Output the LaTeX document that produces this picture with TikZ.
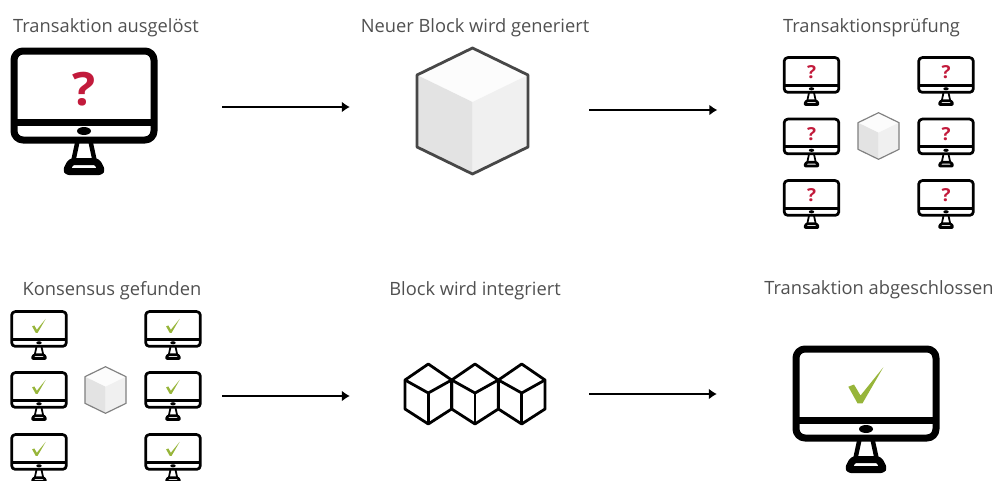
\documentclass[tikz,border=0pt]{standalone}
\usepackage{fontspec}
\setmainfont{Open Sans}
\usetikzlibrary{arrows.meta}

\definecolor{askred}{HTML}{C21A3B}
\definecolor{okgreen}{HTML}{97B53A}
\definecolor{titlegray}{HTML}{505050}

\tikzset{
  title/.style={anchor=base, text=titlegray, font=\fontsize{18.3}{22}\selectfont},
  hub/.style 2 args={inner sep=0pt, minimum width=#1, minimum height=#2},
  flow/.style={draw, black, line width=2.6pt, -{Latex[length=8pt,width=11pt]}},
  pics/frame/.style={code={
    \begin{scope}[scale=#1, line width=#1*7pt, line join=round]
      \draw[rounded corners=#1*9pt] (-70,-60) rectangle (70,29);
      \draw (-70,11) -- (70,11);
      \fill (0,20) ellipse (7 and 4);
      \draw[line width=#1*4.5pt] (-6.2,29) -- (-10.5,49);
      \draw[line width=#1*4.5pt] (6.2,29) -- (10.5,49);
      \draw[rounded corners=#1*3pt] (-13,50.5) -- (13,50.5) -- (18,60.5) -- (-18,60.5) -- cycle;
    \end{scope}
  }},
  pics/askscreen/.style={code={
    \pic {frame=#1};
    \node[xscale=#1*1.05, yscale=#1, text=askred, font=\fontsize{46}{46}\selectfont\bfseries] (sign) at (0,#1*-21.5) {?};
  }},
  pics/okscreen/.style={code={
    \pic {frame=#1};
    \begin{scope}[scale=#1]
      \fill[okgreen] (-17.7,-22.3) -- (-12,-24.5) -- (-5.5,-13.5) -- (17.3,-41.7) -- (-3.5,-5.7) -- (-8.5,-5.7) -- cycle;
    \end{scope}
  }},
  pics/solidcube/.style 2 args={code={
    \begin{scope}[scale=#1]
      \fill[white!99!black] (0,-63) -- (55.5,-36) -- (0,-9) -- (-55.5,-36) -- cycle;
      \fill[white!89!black] (-55.5,-36) -- (0,-9) -- (0,63) -- (-55.5,36) -- cycle;
      \fill[white!94!black] (55.5,-36) -- (0,-9) -- (0,63) -- (55.5,36) -- cycle;
      \draw[#2, line width=#1*2.6pt+.2pt, line join=round] (0,-63) -- (55.5,-36) -- (55.5,36) -- (0,63) -- (-55.5,36) -- (-55.5,-36) -- cycle;
    \end{scope}
  }},
  pics/wirecube/.style={code={
    \draw[line width=2.8pt, line join=round] (0,-30) -- (23.3,-14) -- (23.3,15) -- (0,30) -- (-23.3,15) -- (-23.3,-14) -- cycle;
    \draw[line width=2.8pt, line join=round] (-23.3,-14) -- (0,-1) -- (23.3,-14);
    \draw[line width=2.8pt] (0,-1) -- (0,30);
  }}
}

\begin{document}
\begin{tikzpicture}[x=1pt, y=-1pt]
  \clip (0,0) rectangle (995,480);

  \node[title] (titlestart) at (106,32) {Transaktion ausgelöst};
  \node[title] (titleblock) at (475,32) {Neuer Block wird generiert};
  \node[title] (titlecheck) at (871.5,32) {Transaktionsprüfung};
  \node[title] (titleagree) at (112,295) {Konsensus gefunden};
  \node[title] (titlechain) at (475,295) {Block wird integriert};
  \node[title] (titledone) at (879,294) {Transaktion abgeschlossen};

  \node[hub={147pt}{128pt}] (start) at (84,111) {};
  \node[hub={111pt}{126pt}] (block) at (472.5,111) {};
  \node[hub={191pt}{173pt}] (check) at (879,142) {};
  \node[hub={191pt}{172pt}] (agree) at (105.5,396) {};
  \node[hub={141pt}{60pt}] (chain) at (474.5,394) {};
  \node[hub={146pt}{128pt}] (done) at (866,409) {};

  \pic (startscreen) at (start) {askscreen=1};
  \pic (newblock) at (block) {solidcube={1}{black!72}};

  \pic (checkA) at (811.5,81) {askscreen=.39};
  \pic (checkB) at (811.5,142.5) {askscreen=.39};
  \pic (checkC) at (811.5,204) {askscreen=.39};
  \pic (checkD) at (946,81) {askscreen=.39};
  \pic (checkE) at (946,142.5) {askscreen=.39};
  \pic (checkF) at (946,204) {askscreen=.39};
  \pic (checkblock) at (878.5,136) {solidcube={.37}{black!50}};

  \pic (agreeA) at (39,335) {okscreen=.39};
  \pic (agreeB) at (39,396) {okscreen=.39};
  \pic (agreeC) at (39,458) {okscreen=.39};
  \pic (agreeD) at (173,335) {okscreen=.39};
  \pic (agreeE) at (173,396) {okscreen=.39};
  \pic (agreeF) at (173,458) {okscreen=.39};
  \pic (agreeblock) at (105.5,390) {solidcube={.37}{black!50}};

  \pic (chainA) at (428.3,394) {wirecube};
  \pic (chainB) at (475,394) {wirecube};
  \pic (chainC) at (521.7,394) {wirecube};

  \pic (donescreen) at (done) {okscreen=1};

  \path
  ([yshift=4pt]start.east) edge [flow, shorten <=64.5pt, shorten >=67pt] ([yshift=4pt]block.west)
  ([yshift=1pt]block.east) edge [flow, shorten <=61pt, shorten >=66pt] ([yshift=32pt]check.west)
  (agree.east) edge [flow, shorten <=21pt, shorten >=54pt] ([yshift=-2pt]chain.west)
  (chain.east) edge [flow, shorten <=44pt, shorten >=76pt] ([yshift=15pt]done.west);
\end{tikzpicture}
\end{document}
